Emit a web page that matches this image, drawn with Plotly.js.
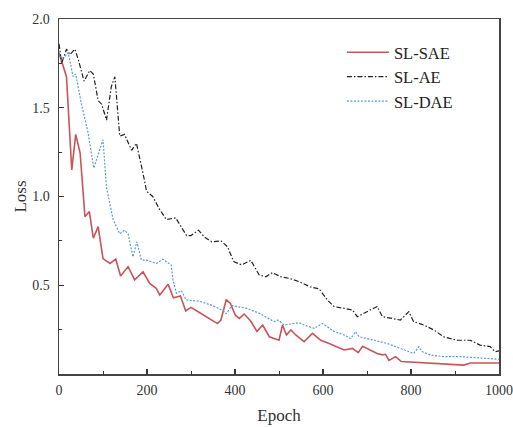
<!DOCTYPE html>
<html>
<head>
<meta charset="utf-8">
<script src="https://cdn.plot.ly/plotly-3.0.1.min.js"></script>
<style>html,body{margin:0;padding:0;background:#fff;}#chart{width:513px;height:427px;}</style>
</head>
<body>
<div id="chart"></div>
<script>
// SL-SAE (red, solid)
var saeX = [0,10,17,29,38,48,55,59,69,78,89,100,116,129,140,157,172,191,206,221,229,248,260,276,288,300,320,342,360,368,380,389,401,410,421,435,450,463,478,500,508,517,527,538,557,576,595,614,630,648,667,680,690,708,723,735,742,750,765,778,810,855,886,920,935,1000];
var saeY = [1.81,1.73,1.675,1.15,1.35,1.245,1.0,0.886,0.915,0.765,0.83,0.65,0.623,0.647,0.552,0.605,0.53,0.576,0.51,0.483,0.445,0.505,0.43,0.44,0.355,0.375,0.345,0.313,0.284,0.304,0.417,0.40,0.33,0.313,0.338,0.30,0.24,0.276,0.21,0.19,0.276,0.22,0.248,0.22,0.182,0.229,0.19,0.172,0.155,0.135,0.144,0.12,0.156,0.135,0.116,0.108,0.111,0.077,0.098,0.07,0.066,0.058,0.055,0.05,0.062,0.062];

// SL-AE (black, dash-dot)
var aeX = [0,6,17,25,36,44,57,70,78,89,97,108,119,127,138,149,165,176,191,199,213,228,244,265,290,300,317,331,347,368,383,397,415,436,455,470,485,504,523,546,572,591,610,625,648,667,678,700,723,735,753,776,795,806,829,852,874,904,935,957,980,991,1000];
var aeY = [1.86,1.75,1.83,1.80,1.83,1.77,1.65,1.71,1.69,1.54,1.52,1.43,1.62,1.675,1.34,1.35,1.26,1.30,1.13,1.03,1.00,0.93,0.87,0.88,0.78,0.78,0.81,0.77,0.745,0.75,0.717,0.633,0.615,0.64,0.558,0.548,0.571,0.548,0.539,0.52,0.49,0.48,0.417,0.38,0.37,0.36,0.323,0.351,0.38,0.323,0.313,0.304,0.351,0.295,0.276,0.248,0.21,0.19,0.19,0.163,0.154,0.126,0.13];

// SL-DAE (blue, dotted)
var daeX = [0,10,21,32,38,51,66,79,100,108,123,138,149,157,168,177,187,199,221,236,255,259,267,278,289,320,350,374,380,393,427,457,489,497,512,546,557,580,599,625,648,663,674,682,716,746,776,806,818,825,844,874,912,942,1000];
var daeY = [1.79,1.78,1.81,1.675,1.69,1.52,1.36,1.16,1.32,1.05,0.87,0.79,0.81,0.79,0.66,0.745,0.642,0.642,0.623,0.646,0.614,0.53,0.455,0.47,0.417,0.41,0.385,0.355,0.34,0.385,0.37,0.34,0.295,0.304,0.276,0.289,0.276,0.257,0.285,0.24,0.22,0.2,0.238,0.21,0.19,0.172,0.144,0.116,0.154,0.126,0.107,0.098,0.098,0.093,0.083];

var yTickVals = [0.5, 1.0, 1.5, 2.0];
var yTickText = ["0.5", "1.0", "1.5", "2.0"];

var serif = "Liberation Serif, Times New Roman, serif";

var traces = [
  {x: saeX, y: saeY, name: "SL-SAE", mode: "lines", type: "scatter",
   line: {color: "#c9545a", width: 1.6}},
  {x: aeX, y: aeY, name: "SL-AE", mode: "lines", type: "scatter",
   line: {color: "#222222", width: 1.2, dash: "5px,2px,1.5px,2px"}},
  {x: daeX, y: daeY, name: "SL-DAE", mode: "lines", type: "scatter",
   line: {color: "#5b9bd0", width: 1.2, dash: "2px,1.5px"}}
];

var layout = {
  width: 513, height: 427,
  margin: {l: 59, r: 14, t: 19, b: 53, pad: 0},
  paper_bgcolor: "#ffffff", plot_bgcolor: "#ffffff",
  showlegend: true,
  legend: {x: 0.643, y: 0.955, xanchor: "left", yanchor: "top",
           itemwidth: 42,
           font: {family: serif, size: 16.5, color: "#222"},
           bgcolor: "rgba(255,255,255,0)", tracegroupgap: 0},
  xaxis: {
    range: [0, 1000], dtick: 200, tick0: 0,
    showgrid: false, zeroline: false,
    showline: true, linecolor: "#444", linewidth: 1.5, mirror: true,
    ticks: "inside", ticklen: 5, tickwidth: 1.2, tickcolor: "#333",
    minor: {dtick: 100, ticks: "inside", ticklen: 3, tickwidth: 1, tickcolor: "#333"},
    tickfont: {family: serif, size: 14, color: "#333"},
    ticklabelstandoff: 3,
    title: {text: "Epoch", font: {family: serif, size: 17, color: "#333"}, standoff: 12}
  },
  yaxis: {
    range: [0, 2.0], tickvals: yTickVals, ticktext: yTickText,
    showgrid: false, zeroline: false,
    showline: true, linecolor: "#444", linewidth: 1.5, mirror: true,
    ticks: "inside", ticklen: 5, tickwidth: 1.2, tickcolor: "#333",
    minor: {dtick: 0.25, tick0: 0, ticks: "inside", ticklen: 3, tickwidth: 1, tickcolor: "#333"},
    tickfont: {family: serif, size: 14, color: "#333"},
    ticklabelstandoff: 5,
    title: {text: "Loss", font: {family: serif, size: 17, color: "#333"}, standoff: 1}
  }
};

Plotly.newPlot("chart", traces, layout, {displayModeBar: false, staticPlot: true});
</script>
</body>
</html>
